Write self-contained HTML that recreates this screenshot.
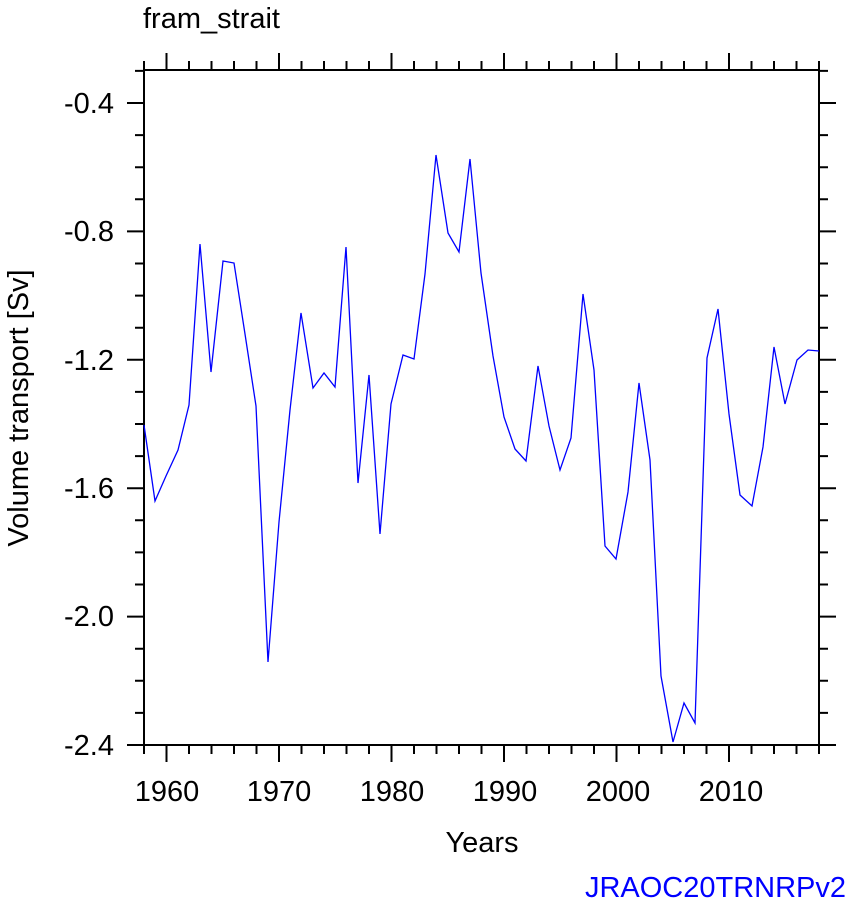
<!DOCTYPE html>
<html><head><style>body{margin:0;background:#fff}svg{display:block}</style></head><body>
<svg width="858" height="909" xmlns="http://www.w3.org/2000/svg" font-family="Liberation Sans, sans-serif">
<rect width="858" height="909" fill="#fff"/>
<g stroke="#000" stroke-width="2" fill="none">
<path d="M144 745v9M189 745v9M211.5 745v9M234 745v9M256.5 745v9M301.5 745v9M324 745v9M346.5 745v9M369 745v9M414 745v9M436.5 745v9M459 745v9M481.5 745v9M526.5 745v9M549 745v9M571.5 745v9M594 745v9M639 745v9M661.5 745v9M684 745v9M706.5 745v9M751.5 745v9M774 745v9M796.5 745v9M819 745v9"/>
<path d="M166.5 745v17M279 745v17M391.5 745v17M504 745v17M616.5 745v17M729 745v17"/>
<path d="M144 70v-9M189 70v-9M211.5 70v-9M234 70v-9M256.5 70v-9M301.5 70v-9M324 70v-9M346.5 70v-9M369 70v-9M414 70v-9M436.5 70v-9M459 70v-9M481.5 70v-9M526.5 70v-9M549 70v-9M571.5 70v-9M594 70v-9M639 70v-9M661.5 70v-9M684 70v-9M706.5 70v-9M751.5 70v-9M774 70v-9M796.5 70v-9M819 70v-9"/>
<path d="M166.5 70v-17M279 70v-17M391.5 70v-17M504 70v-17M616.5 70v-17M729 70v-17"/>
<path d="M144 103h-17M144 231.4h-17M144 359.8h-17M144 488.2h-17M144 616.6h-17M144 745h-17M819 103h17M819 231.4h17M819 359.8h17M819 488.2h17M819 616.6h17M819 745h17"/>
<path d="M144 70.9h-9M144 135.1h-9M144 167.2h-9M144 199.3h-9M144 263.5h-9M144 295.6h-9M144 327.7h-9M144 391.9h-9M144 424h-9M144 456.1h-9M144 520.3h-9M144 552.4h-9M144 584.5h-9M144 648.7h-9M144 680.8h-9M144 712.9h-9"/>
<path d="M819 70.9h9M819 135.1h9M819 167.2h9M819 199.3h9M819 263.5h9M819 295.6h9M819 327.7h9M819 391.9h9M819 424h9M819 456.1h9M819 520.3h9M819 552.4h9M819 584.5h9M819 648.7h9M819 680.8h9M819 712.9h9"/>
</g>
<rect x="144" y="70" width="675" height="675" fill="none" stroke="#000" stroke-width="2"/>
<polyline fill="none" stroke="#0000ff" stroke-width="1.3" points="144,425 155,501 166,476 178,450 189,405 200,244 211,372 223,261 234,263 245,334 256,406 268,662 279,522 290,410 301,313 313,388 324,373 335,387 346,247 358,483 369,375 380,534 391,404 403,355 414,359 425,274 436,155 448,233 459,252 470,159 481,273 493,356 504,417 515,449 526,461 538,366 549,426 560,470 571,438 583,294 594,370 605,546 616,559 628,492 639,383 650,460 661,676 673,742 684,703 695,723 707,358 718,309 729,414 740,495 752,506 763,447 774,347 785,404 797,360 808,350 819,351"/>
<g font-size="29" text-anchor="end">
<text x="114" y="113">-0.4</text><text x="114" y="241">-0.8</text><text x="114" y="370">-1.2</text><text x="114" y="498">-1.6</text><text x="114" y="626">-2.0</text><text x="114" y="755">-2.4</text>
</g>
<g font-size="29" text-anchor="middle">
<text x="167" y="801">1960</text><text x="279" y="801">1970</text><text x="392" y="801">1980</text><text x="505" y="801">1990</text><text x="618" y="801">2000</text><text x="731" y="801">2010</text>
<text x="482" y="852">Years</text>
<text transform="translate(28,408) rotate(-90)">Volume transport [Sv]</text>
</g>
<text x="143" y="28" font-size="29">fram_strait</text>
<text x="846" y="897" font-size="29" fill="#0000ff" text-anchor="end">JRAOC20TRNRPv2</text>
</svg>
</body></html>
